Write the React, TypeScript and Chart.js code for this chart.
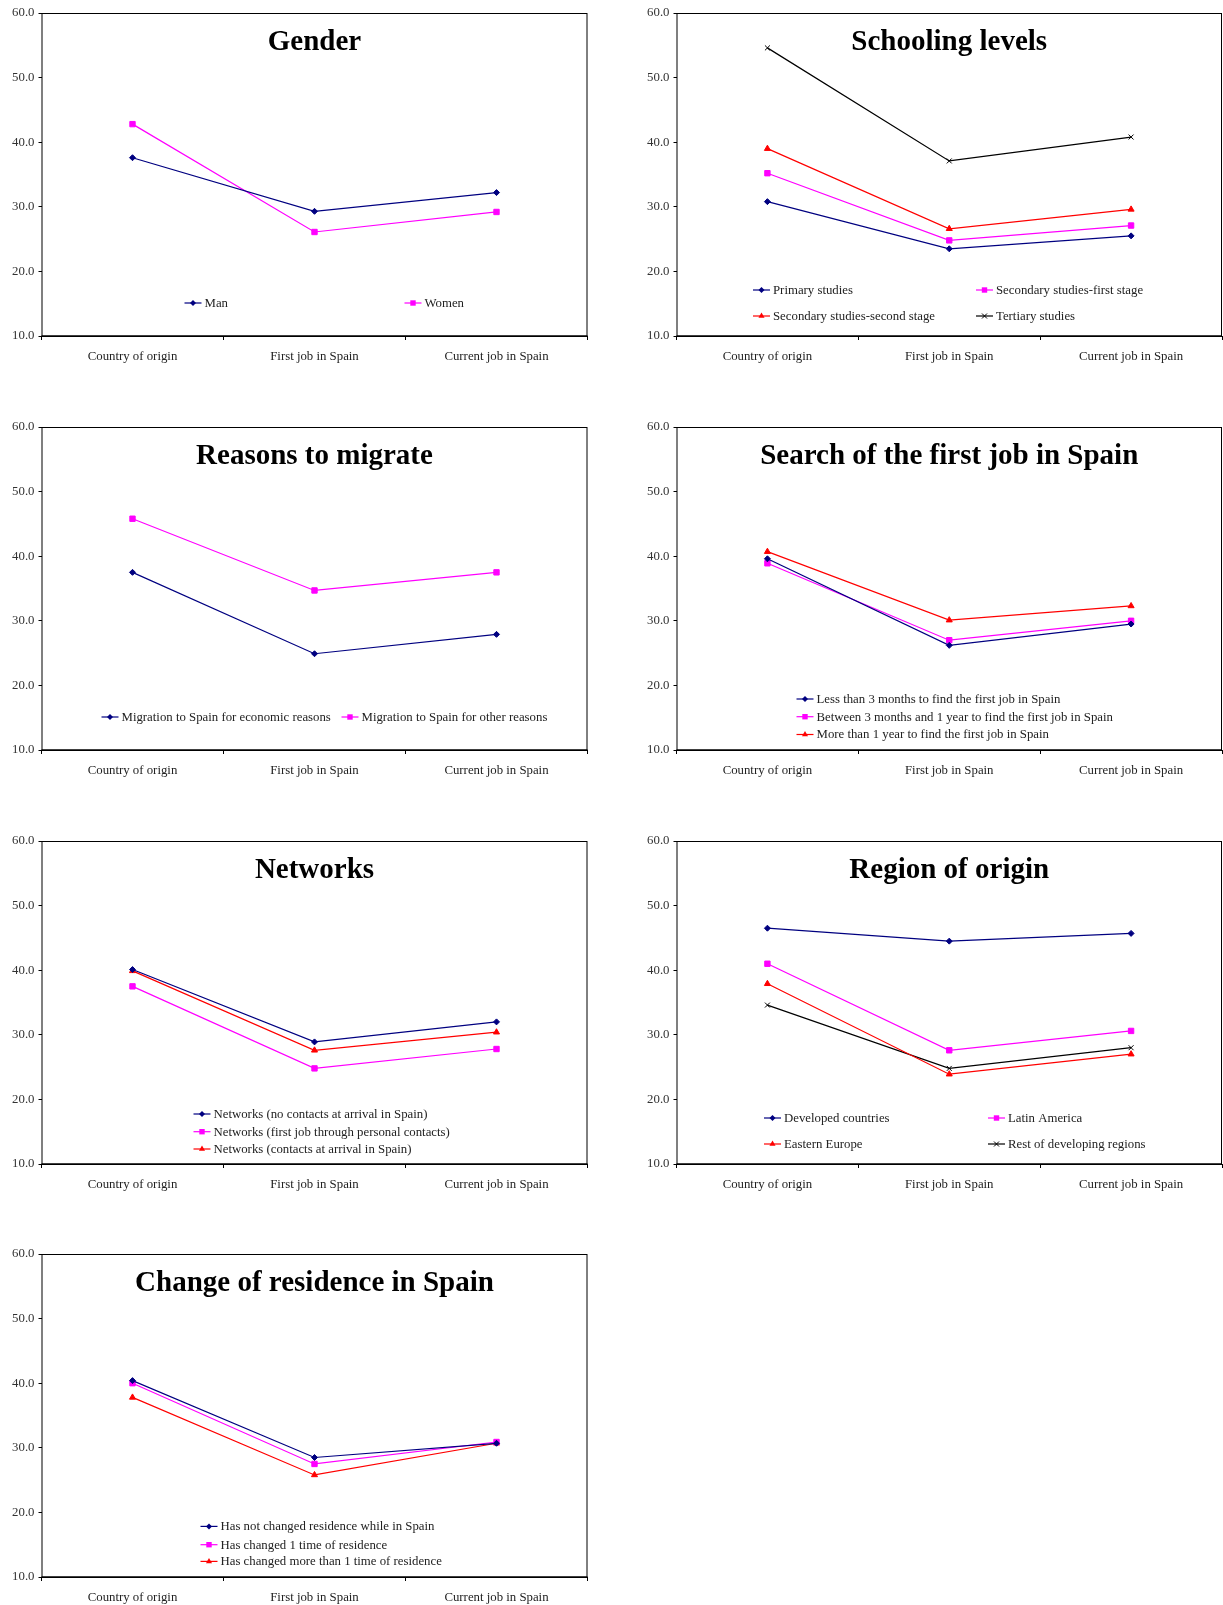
import React, { useEffect, useRef } from 'react';
import { Chart, registerables } from 'chart.js';

Chart.register(...registerables);

const FONT = '"Liberation Serif", "Times New Roman", serif';

const categories = ['Country of origin', 'First job in Spain', 'Current job in Spain'];
const yTicks = [10, 20, 30, 40, 50, 60];

// Gender
const genderMan = [37.6, 29.3, 32.2];
const genderWomen = [42.8, 26.1, 29.2];

// Schooling levels
const schoolPrimary = [30.8, 23.5, 25.5];
const schoolSecFirst = [35.2, 24.8, 27.1];
const schoolSecSecond = [39.0, 26.6, 29.6];
const schoolTertiary = [54.6, 37.1, 40.8];

// Reasons to migrate
const reasonEconomic = [37.5, 24.9, 27.9];
const reasonOther = [45.8, 34.7, 37.5];

// Search of the first job in Spain
const searchLess3 = [39.6, 26.2, 29.5];
const searchBetween = [38.9, 27.0, 30.0];
const searchMore1 = [40.7, 30.1, 32.3];

// Networks
const netNoContacts = [40.1, 28.9, 32.0];
const netFirstJob = [37.5, 24.8, 27.8];
const netContacts = [39.9, 27.6, 30.4];

// Region of origin
const regDeveloped = [46.5, 44.5, 45.7];
const regLatin = [41.0, 27.6, 30.6];
const regEastern = [37.9, 23.9, 27.0];
const regRest = [34.6, 24.8, 28.0];

// Change of residence in Spain
const resNone = [40.4, 28.5, 30.7];
const resOne = [40.0, 27.5, 30.9];
const resMore = [37.8, 25.8, 30.7];

type StyleKey = 'navy' | 'magenta' | 'red' | 'black';
const STYLES: Record<StyleKey, { color: string; point: string; radius: number }> = {
  navy: { color: '#000080', point: 'rectRot', radius: 3 },
  magenta: { color: '#FF00FF', point: 'rect', radius: 3.8 },
  red: { color: '#FF0000', point: 'triangle', radius: 3.5 },
  black: { color: '#000000', point: 'crossRot', radius: 3.5 },
};

type Series = { label: string; data: number[]; style: StyleKey };
type PanelCfg = {
  title: string;
  series: Series[];
  cols: number;
  legendX: number[];
  legendRows: number[];
  col: number;
  row: number;
};

const panels: PanelCfg[] = [
  {
    title: 'Gender',
    series: [
      { label: 'Man', data: genderMan, style: 'navy' },
      { label: 'Women', data: genderWomen, style: 'magenta' },
    ],
    cols: 2, legendX: [143, 363], legendRows: [33], col: 0, row: 0,
  },
  {
    title: 'Schooling levels',
    series: [
      { label: 'Primary studies', data: schoolPrimary, style: 'navy' },
      { label: 'Secondary studies-first stage', data: schoolSecFirst, style: 'magenta' },
      { label: 'Secondary studies-second stage', data: schoolSecSecond, style: 'red' },
      { label: 'Tertiary studies', data: schoolTertiary, style: 'black' },
    ],
    cols: 2, legendX: [76.5, 299.5], legendRows: [46, 20], col: 1, row: 0,
  },
  {
    title: 'Reasons to migrate',
    series: [
      { label: 'Migration to Spain for economic reasons', data: reasonEconomic, style: 'navy' },
      { label: 'Migration to Spain for other reasons', data: reasonOther, style: 'magenta' },
    ],
    cols: 2, legendX: [60, 300], legendRows: [33], col: 0, row: 1,
  },
  {
    title: 'Search of the first job in Spain',
    series: [
      { label: 'Less than 3 months to find the first job in Spain', data: searchLess3, style: 'navy' },
      { label: 'Between 3 months and 1 year to find the first job in Spain', data: searchBetween, style: 'magenta' },
      { label: 'More than 1 year to find the first job in Spain', data: searchMore1, style: 'red' },
    ],
    cols: 1, legendX: [120], legendRows: [51, 33.3, 15.5], col: 1, row: 1,
  },
  {
    title: 'Networks',
    series: [
      { label: 'Networks (no contacts at arrival in Spain)', data: netNoContacts, style: 'navy' },
      { label: 'Networks (first job through personal contacts)', data: netFirstJob, style: 'magenta' },
      { label: 'Networks (contacts at arrival in Spain)', data: netContacts, style: 'red' },
    ],
    cols: 1, legendX: [152], legendRows: [50, 32.3, 15], col: 0, row: 2,
  },
  {
    title: 'Region of origin',
    series: [
      { label: 'Developed countries', data: regDeveloped, style: 'navy' },
      { label: 'Latin America', data: regLatin, style: 'magenta' },
      { label: 'Eastern Europe', data: regEastern, style: 'red' },
      { label: 'Rest of developing regions', data: regRest, style: 'black' },
    ],
    cols: 2, legendX: [87.5, 311.5], legendRows: [46, 20], col: 1, row: 2,
  },
  {
    title: 'Change of residence in Spain',
    series: [
      { label: 'Has not changed residence while in Spain', data: resNone, style: 'navy' },
      { label: 'Has changed 1 time of residence', data: resOne, style: 'magenta' },
      { label: 'Has changed more than 1 time of residence', data: resMore, style: 'red' },
    ],
    cols: 1, legendX: [159], legendRows: [50.6, 32.3, 15.6], col: 0, row: 3,
  },
];

const COL_GEOM = [
  { left: 0, width: 600, yWidth: 41.5, padRight: 12.5 },
  { left: 635, width: 600, yWidth: 41.5, padRight: 13 },
];
const ROW_TOPS = [0.3, 413.7, 827.5, 1241];
const CANVAS_H = 364;
const X_AXIS_H = 28;
const PAD_TOP = 13;
const TICK_FONT = 12.8;

function drawMarker(ctx: CanvasRenderingContext2D, style: StyleKey, x: number, y: number) {
  const s = STYLES[style];
  ctx.save();
  ctx.fillStyle = s.color;
  ctx.strokeStyle = s.color;
  ctx.lineWidth = 1;
  ctx.beginPath();
  if (style === 'navy') {
    const r = 3;
    ctx.moveTo(x, y - r); ctx.lineTo(x + r, y); ctx.lineTo(x, y + r); ctx.lineTo(x - r, y);
    ctx.closePath(); ctx.fill();
  } else if (style === 'magenta') {
    const h = 2.7;
    ctx.rect(x - h, y - h, 2 * h, 2 * h); ctx.fill();
  } else if (style === 'red') {
    const r = 3.5;
    ctx.moveTo(x, y - r); ctx.lineTo(x + r * 0.87, y + r * 0.5); ctx.lineTo(x - r * 0.87, y + r * 0.5);
    ctx.closePath(); ctx.fill();
  } else {
    const r = 2.5;
    ctx.moveTo(x - r, y - r); ctx.lineTo(x + r, y + r);
    ctx.moveTo(x + r, y - r); ctx.lineTo(x - r, y + r);
    ctx.stroke();
  }
  ctx.restore();
}

function Panel({ cfg }: { cfg: PanelCfg }) {
  const ref = useRef<HTMLCanvasElement | null>(null);
  const geom = COL_GEOM[cfg.col];
  useEffect(() => {
    if (!ref.current) return;
    const framePlugin = {
      id: 'frame',
      afterDraw(chart: any) {
        const { ctx, chartArea } = chart;
        ctx.save();
        ctx.strokeStyle = '#000';
        ctx.lineWidth = 1;
        ctx.strokeRect(chartArea.left + 0.5, chartArea.top + 0.5, chartArea.right - chartArea.left - 1, chartArea.bottom - chartArea.top);
        ctx.lineWidth = 1.6;
        ctx.beginPath();
        ctx.moveTo(chartArea.left, chartArea.bottom);
        ctx.lineTo(chartArea.right, chartArea.bottom);
        ctx.stroke();
        // title
        ctx.fillStyle = '#000';
        ctx.font = `bold 29px ${FONT}`;
        ctx.textAlign = 'center';
        ctx.textBaseline = 'alphabetic';
        ctx.fillText(cfg.title, (chartArea.left + chartArea.right) / 2, chartArea.top + 37);
        // legend
        ctx.font = `${TICK_FONT}px ${FONT}`;
        ctx.textAlign = 'left';
        ctx.textBaseline = 'middle';
        cfg.series.forEach((s, i) => {
          const c = i % cfg.cols;
          const r = Math.floor(i / cfg.cols);
          const x = chartArea.left + cfg.legendX[c];
          const y = chartArea.bottom - cfg.legendRows[r];
          ctx.strokeStyle = STYLES[s.style].color;
          ctx.lineWidth = 1.2;
          ctx.beginPath();
          ctx.moveTo(x, y);
          ctx.lineTo(x + 17, y);
          ctx.stroke();
          drawMarker(ctx, s.style, x + 8.5, y);
          ctx.fillStyle = '#222';
          ctx.fillText(s.label, x + 20, y + 0.5);
        });
        ctx.restore();
      },
    };
    const chart = new Chart(ref.current, {
      type: 'line',
      data: {
        labels: categories,
        datasets: cfg.series.map((s) => ({
          label: s.label,
          data: s.data,
          borderColor: STYLES[s.style].color,
          backgroundColor: STYLES[s.style].color,
          borderWidth: 1.2,
          pointStyle: STYLES[s.style].point as any,
          pointRadius: STYLES[s.style].radius,
          pointBorderWidth: 1,
          pointBackgroundColor: STYLES[s.style].color,
          pointBorderColor: STYLES[s.style].color,
          tension: 0,
          fill: false,
        })),
      },
      options: {
        animation: false,
        responsive: false,
        devicePixelRatio: 1,
        layout: { padding: { left: 0, right: geom.padRight, top: PAD_TOP, bottom: 0 } },
        plugins: {
          legend: { display: false },
          title: { display: false },
          tooltip: { enabled: false },
        },
        scales: {
          x: {
            type: 'category',
            offset: true,
            grid: {
              display: true,
              offset: true,
              drawOnChartArea: false,
              drawTicks: true,
              tickLength: 4,
              color: '#000',
              lineWidth: 1,
            },
            border: { display: false },
            ticks: {
              padding: 9,
              color: '#222',
              font: { family: FONT, size: TICK_FONT },
              maxRotation: 0,
              autoSkip: false,
            },
            afterFit: (s: any) => { s.height = X_AXIS_H; },
          },
          y: {
            type: 'linear',
            min: yTicks[0],
            max: yTicks[yTicks.length - 1],
            afterBuildTicks: (s: any) => { s.ticks = yTicks.map((v) => ({ value: v })); },
            ticks: {
              padding: 4,
              color: '#333',
              font: { family: FONT, size: TICK_FONT },
              callback: (v: any) => Number(v).toFixed(1),
            },
            grid: {
              display: true,
              drawOnChartArea: false,
              drawTicks: true,
              tickLength: 3,
              color: '#000',
              lineWidth: 1,
            },
            border: { display: false },
            afterFit: (s: any) => { s.width = geom.yWidth; },
          },
        },
      } as any,
      plugins: [framePlugin],
    });
    return () => chart.destroy();
  }, [cfg]);
  return (
    <canvas
      ref={ref}
      width={geom.width}
      height={CANVAS_H}
      style={{ position: 'absolute', left: geom.left, top: ROW_TOPS[cfg.row], width: geom.width, height: CANVAS_H }}
    />
  );
}

export default function App() {
  return (
    <div style={{ position: 'absolute', left: 0, top: 0, width: 1223, height: 1605, overflow: 'hidden', background: '#fff' }}>
      {panels.map((p, i) => (
        <Panel key={i} cfg={p} />
      ))}
    </div>
  );
}
